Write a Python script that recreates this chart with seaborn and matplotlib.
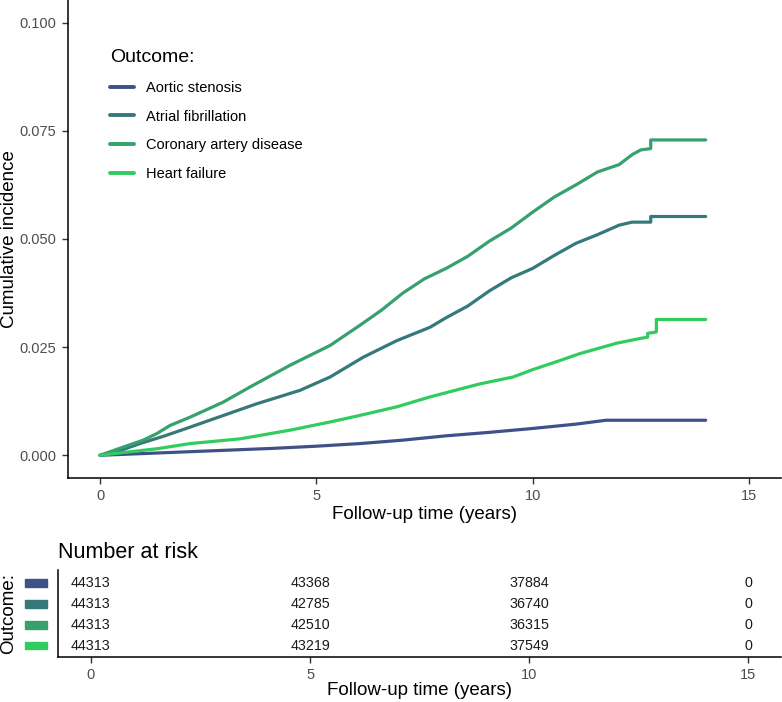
import pandas as pd
import seaborn as sns
import matplotlib.pyplot as plt
from matplotlib.patches import Rectangle
from matplotlib.transforms import blended_transform_factory

outcomes = ["Aortic stenosis", "Atrial fibrillation", "Coronary artery disease", "Heart failure"]
colors = ["#3E5289", "#35797A", "#36A06E", "#30CC60"]

# cumulative incidence curves (time in years)
t_as = [0, 1, 2, 3, 4, 5, 6, 7, 8, 9, 10, 11, 11.7, 14]
ci_as = [0, 0.0004, 0.0008, 0.0012, 0.0016, 0.0021, 0.0027, 0.0035, 0.0045, 0.0053, 0.0062, 0.0072, 0.0081, 0.0081]

t_af = [0, 0.5, 0.92, 1.5, 2.08, 2.85, 3.62, 4.62, 5.32, 6.09, 6.86, 7.63, 8.0, 8.5, 9.0, 9.5, 10.0,
        10.5, 11.0, 11.5, 12.0, 12.3, 12.73, 12.73, 14]
ci_af = [0, 0.0012, 0.0027, 0.0045, 0.0065, 0.0092, 0.0119, 0.0150, 0.0181, 0.0227, 0.0265, 0.0296, 0.0318,
         0.0345, 0.0380, 0.0410, 0.0432, 0.0462, 0.0490, 0.0510, 0.0532, 0.0539, 0.0539, 0.0552, 0.0552]

t_cad = [0, 0.54, 1.0, 1.31, 1.62, 2.08, 2.85, 3.47, 4.39, 5.32, 6.0, 6.5, 7.0, 7.5, 8.0, 8.5, 9.0, 9.5,
         10.0, 10.5, 11.0, 11.5, 12.0, 12.3, 12.5, 12.73, 12.73, 14]
ci_cad = [0, 0.0019, 0.0035, 0.0050, 0.0069, 0.0088, 0.0123, 0.0158, 0.0208, 0.0254, 0.0300, 0.0335, 0.0375,
          0.0408, 0.0432, 0.0460, 0.0495, 0.0525, 0.0562, 0.0597, 0.0625, 0.0655, 0.0672, 0.0695, 0.0706,
          0.0709, 0.0729, 0.0729]

t_hf = [0, 0.5, 1.31, 2.08, 3.24, 4.39, 5.32, 6.0, 6.86, 7.63, 8.78, 9.55, 10.0, 10.63, 11.09, 11.94,
        12.48, 12.66, 12.66, 12.86, 12.86, 14]
ci_hf = [0, 0.0006, 0.0015, 0.0027, 0.0038, 0.0058, 0.0077, 0.0092, 0.0112, 0.0135, 0.0165, 0.0181, 0.0198,
         0.0219, 0.0235, 0.0259, 0.0270, 0.0273, 0.0282, 0.0285, 0.0314, 0.0314]

# number at risk table
risk_times = [0, 5, 10, 15]
risk_as = [44313, 43368, 37884, 0]
risk_af = [44313, 42785, 36740, 0]
risk_cad = [44313, 42510, 36315, 0]
risk_hf = [44313, 43219, 37549, 0]

curves = pd.concat([
    pd.DataFrame({"time": t_as, "ci": ci_as, "Outcome": outcomes[0]}),
    pd.DataFrame({"time": t_af, "ci": ci_af, "Outcome": outcomes[1]}),
    pd.DataFrame({"time": t_cad, "ci": ci_cad, "Outcome": outcomes[2]}),
    pd.DataFrame({"time": t_hf, "ci": ci_hf, "Outcome": outcomes[3]}),
], ignore_index=True)
risk = [risk_as, risk_af, risk_cad, risk_hf]

sns.set_style("ticks")
plt.rcParams["font.family"] = ["Liberation Sans", "DejaVu Sans"]
plt.rcParams["text.color"] = "black"
plt.rcParams["axes.labelcolor"] = "black"
grey = "#4D4D4D"

fig = plt.figure(figsize=(7.82, 7.02), dpi=100)
ax = fig.add_axes([0.0864, 0.3191, 0.9128, 0.6809])
tab = fig.add_axes([0.0742, 0.0641, 0.9250, 0.1239])

sns.lineplot(data=curves, x="time", y="ci", hue="Outcome", hue_order=outcomes,
             palette=colors, estimator=None, sort=False, linewidth=2.3, ax=ax)

ax.set_xlim(-0.75, 15.75)
ax.set_ylim(-0.00525, 0.10525)
ax.set_xticks([0, 5, 10, 15])
ax.set_yticks([0, 0.025, 0.05, 0.075, 0.1])
ax.set_yticklabels(["0.000", "0.025", "0.050", "0.075", "0.100"])
ax.set_xlabel("Follow-up time (years)", fontsize=13.5)
ax.set_ylabel("Cumulative incidence", fontsize=13.5)
ax.xaxis.set_label_coords(0.5, -0.058)
ax.yaxis.set_label_coords(-0.069, 0.5)
sns.despine(ax=ax)
for s in ["left", "bottom"]:
    ax.spines[s].set_linewidth(1.1)
    ax.spines[s].set_color("black")
ax.tick_params(labelsize=10.5, labelcolor=grey, length=4.5, width=1.0, color="#333333")

leg = ax.legend(title="Outcome:", frameon=False, loc="upper left",
                bbox_to_anchor=(0.06, 0.898), fontsize=10.5, title_fontsize=14,
                handlelength=1.65, handletextpad=0.8, labelspacing=1.02,
                borderpad=0, borderaxespad=0, alignment="left")
for line in leg.get_lines():
    line.set_linewidth(2.8)

# risk table
n = len(outcomes)
for i, name in enumerate(outcomes):
    row = n - i
    for t, v in zip(risk_times, risk[i]):
        tab.text(t, row, str(v), ha="center", va="center", fontsize=10.3, color="#1A1A1A")
    trans = blended_transform_factory(tab.transAxes, tab.transData)
    tab.add_patch(Rectangle((-0.0458, row - 0.19), 0.0305, 0.38, transform=trans,
                            color=colors[i], clip_on=False))

tab.set_xlim(-0.75, 15.75)
tab.set_ylim(0.45, 4.62)
tab.set_xticks(risk_times)
tab.set_yticks([])
tab.set_xlabel("Follow-up time (years)", fontsize=13.5)
tab.set_ylabel("Outcome:", fontsize=13.5)
tab.xaxis.set_label_coords(0.5, -0.29)
tab.yaxis.set_label_coords(-0.056, 0.5)
tab.set_title("Number at risk", loc="left", fontsize=15.5, pad=9)
sns.despine(ax=tab)
for s in ["left", "bottom"]:
    tab.spines[s].set_linewidth(1.1)
    tab.spines[s].set_color("black")
tab.tick_params(labelsize=10.5, labelcolor=grey, length=4.5, width=1.0, color="#333333")

plt.savefig("out.png", dpi=100)
